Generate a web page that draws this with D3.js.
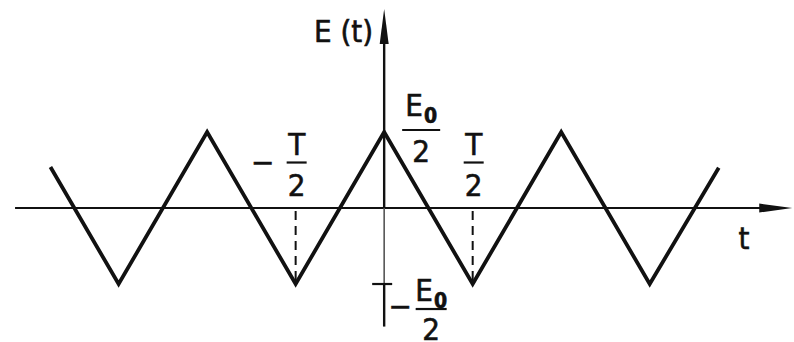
<!DOCTYPE html>
<html>
<head>
<meta charset="utf-8">
<script src="https://cdn.jsdelivr.net/npm/d3@7"></script>
<style>
  html, body { margin: 0; padding: 0; background: #fff; }
  svg { display: block; }
  text { font-family: "DejaVu Sans Condensed", "DejaVu Sans", sans-serif; fill: #111; stroke: #111; stroke-width: 0.6px; }
</style>
</head>
<body>
<svg id="chart" width="794" height="342"></svg>
<script>
// Triangle wave E(t); time measured in units of T/2, field in units of E0/2
const timeKnots   = [-3.77, -3, -2, -1, 0, 1, 2, 3, 3.78];
const fieldValues = [0.54, -1, 1, -1, 1, -1, 1, -1, 0.53];

// Marked half-periods on the t axis
const timeTicks      = [-1, 1];
const timeTickSigns  = ["\u2212", ""];
const timeTickNumer  = ["T", "T"];
const timeTickDenom  = ["2", "2"];

// Marked levels on the E axis
const levelTicks     = [1, -1];
const levelTickSigns = ["", "\u2212"];
const levelTickNumer = ["E", "E"];
const levelTickSub   = ["0", "0"];
const levelTickDenom = ["2", "2"];

// Axis titles
const timeAxisTitle  = "t";
const fieldAxisTitle = "E (t)";

// Axis extents (in data units)
const tAxisExtent = [-4.17, 4.61];
const eAxisExtent = [-1.56, 2.62];

const width = 794, height = 342;
const svg = d3.select("#chart");

const x = d3.scaleLinear().domain([-4.34, 4.63]).range([0, width]);
const y = d3.scaleLinear().domain([2.737, -1.763]).range([0, height]);

const x0 = x(0), y0 = y(0);
const ink = "#111";

// ---- horizontal (t) axis with arrow ----
const tStart = x(tAxisExtent[0]), tTip = x(tAxisExtent[1]);
const hArrowLen = 33, hArrowHalf = 4.5;
svg.append("line")
  .attr("x1", tStart).attr("x2", tTip - hArrowLen + 2)
  .attr("y1", y0).attr("y2", y0)
  .attr("stroke", ink).attr("stroke-width", 2.2);
svg.append("path")
  .attr("d", `M${tTip},${y0} L${tTip - hArrowLen},${y0 - hArrowHalf} L${tTip - hArrowLen},${y0 + hArrowHalf} Z`)
  .attr("fill", ink);

// ---- vertical (E) axis with arrow ----
const eTop = y(eAxisExtent[1]), eBottom = y(eAxisExtent[0]);
const vArrowLen = 35, vArrowHalf = 4.5;
svg.append("line")
  .attr("x1", x0).attr("x2", x0)
  .attr("y1", eTop + vArrowLen - 2).attr("y2", y0)
  .attr("stroke", ink).attr("stroke-width", 2.4);
svg.append("line")
  .attr("x1", x0).attr("x2", x0)
  .attr("y1", y0).attr("y2", y(-1))
  .attr("stroke", "#555").attr("stroke-width", 1.6);
svg.append("line")
  .attr("x1", x0).attr("x2", x0)
  .attr("y1", y(-1)).attr("y2", eBottom)
  .attr("stroke", ink).attr("stroke-width", 2.4);
svg.append("path")
  .attr("d", `M${x0},${eTop} L${x0 - vArrowHalf},${eTop + vArrowLen} L${x0 + vArrowHalf},${eTop + vArrowLen} Z`)
  .attr("fill", ink);

// tick mark at the negative level
svg.append("line")
  .attr("x1", x0 - 12).attr("x2", x0 + 8)
  .attr("y1", y(-1)).attr("y2", y(-1))
  .attr("stroke", ink).attr("stroke-width", 2.2);

// ---- dashed drop lines at the half-periods ----
svg.selectAll("line.drop")
  .data(timeTicks)
  .join("line")
  .attr("class", "drop")
  .attr("x1", d => x(d)).attr("x2", d => x(d))
  .attr("y1", y0 + 3).attr("y2", y(-1))
  .attr("stroke", ink).attr("stroke-width", 2)
  .attr("stroke-dasharray", "9,6");

// ---- triangle wave ----
const wave = d3.line()
  .x((d, i) => x(timeKnots[i]))
  .y((d, i) => y(fieldValues[i]));
svg.append("path")
  .attr("d", wave(timeKnots))
  .attr("fill", "none")
  .attr("stroke", ink)
  .attr("stroke-width", 3.8)
  .attr("stroke-linejoin", "miter");

// ---- fraction labels ----
const fs = 31;

function fraction(cx, barY, halfW, numer, sub, denom, numBase, denomBase) {
  const g = svg.append("g");
  g.append("line")
    .attr("x1", cx - halfW).attr("x2", cx + halfW)
    .attr("y1", barY).attr("y2", barY)
    .attr("stroke", ink).attr("stroke-width", 2.2);
  const num = g.append("text")
    .attr("x", cx).attr("y", barY + numBase)
    .attr("text-anchor", "middle")
    .attr("font-size", fs);
  num.append("tspan").text(numer);
  if (sub) {
    num.append("tspan")
      .attr("dy", 7).attr("dx", 1)
      .attr("font-size", 21).attr("font-weight", "bold")
      .text(sub);
  }
  g.append("text")
    .attr("x", cx).attr("y", barY + denomBase)
    .attr("text-anchor", "middle")
    .attr("font-size", fs)
    .text(denom);
  return g;
}

function sign(cxSign, cy, s) {
  if (!s) return;
  svg.append("text")
    .attr("x", cxSign).attr("y", cy + 10.5)
    .attr("text-anchor", "middle")
    .attr("font-size", fs)
    .text(s);
}

// time ticks: -T/2 and T/2
timeTicks.forEach((t, i) => {
  const cx = x(t) + 1;
  const barY = y0 - 45.5;
  fraction(cx, barY, 10, timeTickNumer[i], null, timeTickDenom[i], -8, 33);
  sign(cx - 34, barY, timeTickSigns[i]);
});

// level ticks: E0/2 and -E0/2
levelTicks.forEach((e, i) => {
  if (e > 0) {
    const barY = y(e) - 2;
    const cx = x0 + 37;
    fraction(cx, barY, 19, levelTickNumer[i], levelTickSub[i], levelTickDenom[i], -14, 32);
    sign(cx - 30, barY, levelTickSigns[i]);
  } else {
    const barY = y(e) + 25;
    const cx = x0 + 47;
    fraction(cx, barY, 15.5, levelTickNumer[i], levelTickSub[i], levelTickDenom[i], -8, 31);
    sign(x0 + 16, barY - 3, levelTickSigns[i]);
  }
});

// ---- axis titles ----
svg.append("text")
  .attr("x", x0 - 11).attr("y", 42)
  .attr("text-anchor", "end")
  .attr("font-size", fs)
  .text(fieldAxisTitle);

svg.append("text")
  .attr("x", 744).attr("y", 249)
  .attr("text-anchor", "middle")
  .attr("font-size", fs)
  .text(timeAxisTitle);
</script>
</body>
</html>
